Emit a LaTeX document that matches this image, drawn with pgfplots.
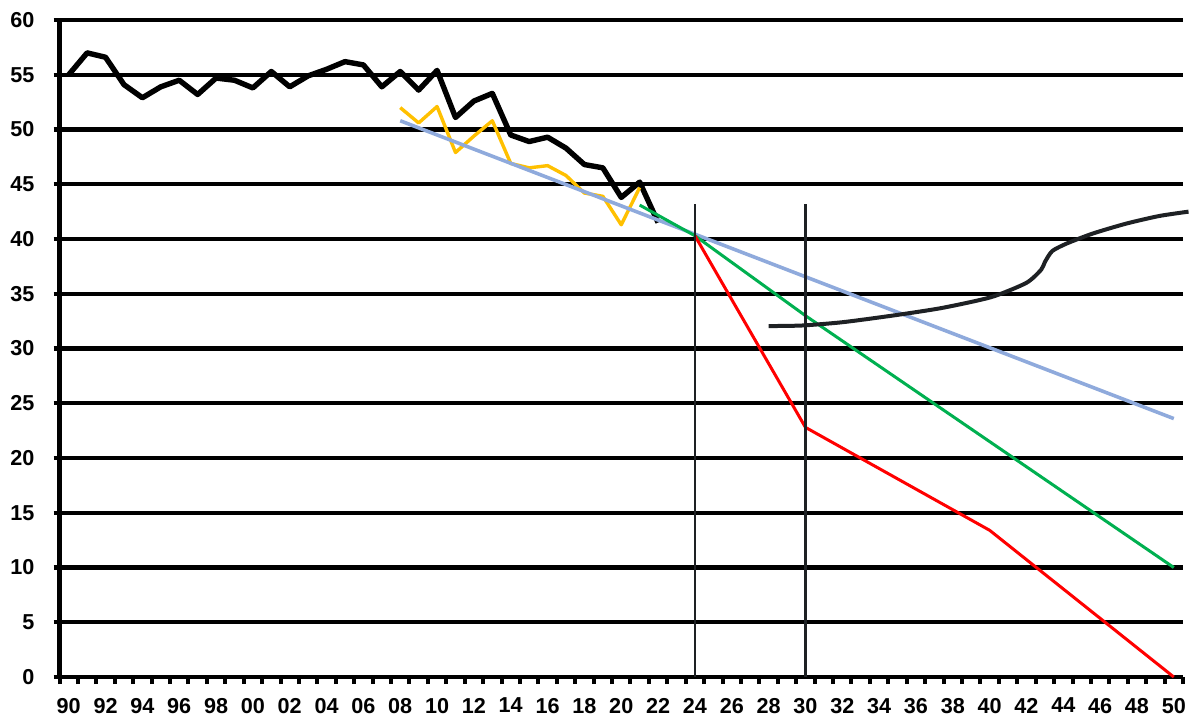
\documentclass[border=0pt]{standalone}
\usepackage{fontspec}
\setmainfont{Liberation Sans}
\usepackage{pgfplots}
\pgfplotsset{compat=1.18}

\definecolor{histgold}{HTML}{FFC000}
\definecolor{trendblue}{HTML}{8FAADC}
\definecolor{pathgreen}{HTML}{00B050}
\definecolor{pathred}{HTML}{FF0000}
\definecolor{darkline}{HTML}{1E2124}

\begin{document}
\begin{tikzpicture}
\begin{axis}[
    scale only axis,
    width=561.75pt, height=328.5pt,
    xmin=1989.5, xmax=2050.5,
    ymin=0, ymax=60,
    clip=false,
    axis x line=bottom, axis y line=left,
    axis line style={-, line width=2.4pt, black},
    xtick={1990,1992,...,2050},
    xticklabels={90,92,94,96,98,00,02,04,06,08,10,12,14,16,18,20,22,24,26,28,30,32,34,36,38,40,42,44,46,48,50},
    minor xtick={1989.5,1990.5,...,2050.5},
    ytick={0,5,...,60},
    tick align=outside,
    major tick length=3pt,
    minor tick length=3.5pt,
    major x tick style={draw=none},
    minor x tick style={black, line width=2pt},
    ytick style={black, line width=2.1pt},
    ymajorgrids,
    major grid style={black, line width=2.1pt},
    tick label style={font=\bfseries\fontsize{10.8}{12}\selectfont},
    /pgf/number format/assume math mode=true,
    yticklabel style={xshift=-6pt},
    xticklabel style={yshift=-4pt},
    line join=round,
]
\coordinate (sw) at (rel axis cs:0,0);

% historic series
\addplot[black, line width=2.7pt] coordinates {
    (1990,55.0) (1991,57.0) (1992,56.6) (1993,54.1) (1994,52.9)
    (1995,53.9) (1996,54.5) (1997,53.2) (1998,54.7) (1999,54.5)
    (2000,53.8) (2001,55.3) (2002,53.9) (2003,54.9) (2004,55.5)
    (2005,56.2) (2006,55.9) (2007,53.9) (2008,55.3) (2009,53.6)
    (2010,55.4) (2011,51.1) (2012,52.6) (2013,53.3) (2014,49.5)
    (2015,48.9) (2016,49.3) (2017,48.3) (2018,46.8) (2019,46.5)
    (2020,43.8) (2021,45.2) (2022,41.5)
};

\addplot[histgold, line width=1.7pt] coordinates {
    (2008,52.0) (2009,50.6) (2010,52.1) (2011,47.9) (2012,49.4)
    (2013,50.8) (2014,46.9) (2015,46.5) (2016,46.7) (2017,45.8)
    (2018,44.2) (2019,43.9) (2020,41.3) (2021,44.7)
};

% trend
\addplot[trendblue, line width=1.8pt] coordinates {
    (2008,50.8) (2050,23.6)
};

% pathways
\addplot[pathgreen, line width=1.5pt] coordinates {
    (2021,43.1) (2024,40.3) (2030,33.0) (2050,10.0)
};

\addplot[pathred, line width=1.5pt] coordinates {
    (2024,40.3) (2030,22.8) (2040,13.4) (2050,0.0)
};

% markers for 2024 and 2030
\addplot[darkline, line width=1.1pt] coordinates {(2024,0) (2024,43.2)};
\addplot[darkline, line width=1.1pt] coordinates {(2030,0) (2030,43.2)};

% hand-drawn curve
\addplot[darkline, line width=2pt, smooth, tension=0.4] coordinates {
    (2028.0,32.05) (2029.8,32.1) (2032.0,32.4) (2034.7,33.0)
    (2037.4,33.7) (2040.1,34.7) (2042.0,36.0) (2042.8,37.2)
    (2043.0,37.9) (2043.4,38.9) (2044.2,39.6) (2045.6,40.5)
    (2047.4,41.4) (2049.2,42.1) (2050.8,42.5)
};
\end{axis}
\pgfresetboundingbox
\useasboundingbox (sw) ++(-29.75pt,-21.5pt) rectangle ++(596pt,360pt);
\end{tikzpicture}
\end{document}
